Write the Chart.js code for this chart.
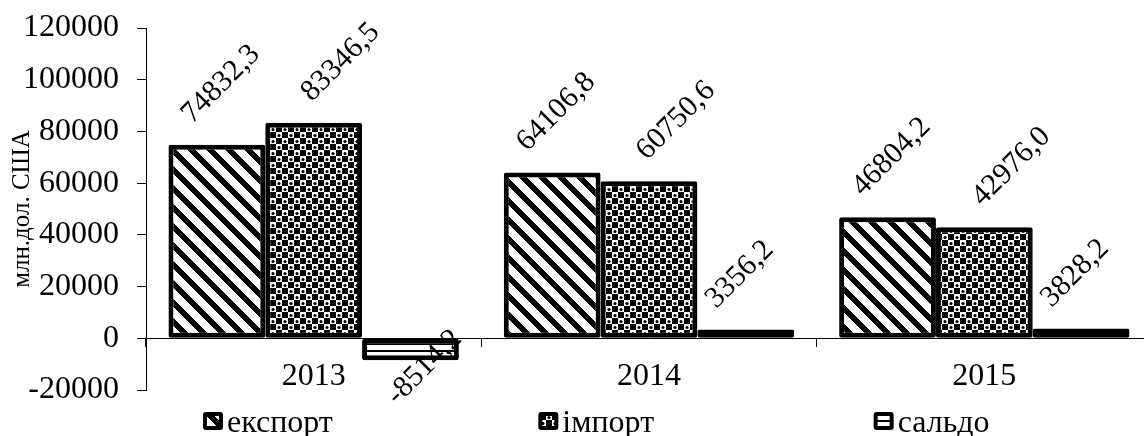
<!DOCTYPE html>
<html>
<head>
<meta charset="utf-8">
<script src="https://cdn.jsdelivr.net/npm/chart.js@4.4.1/dist/chart.umd.min.js"></script>
<style>
  html, body { margin: 0; padding: 0; background: #fff; overflow: hidden; }
  #wrap { width: 1152px; height: 436px; }
</style>
</head>
<body>
<div id="wrap"><canvas id="chart" width="1152" height="436"></canvas></div>
<script>
// data
const years = ['2013', '2014', '2015'];
const seriesNames = ['експорт', 'імпорт', 'сальдо'];
const exportValues = [74832.3, 64106.8, 46804.2];
const importValues = [83346.5, 60750.6, 42976.0];
const saldoValues = [-8514.2, 3356.2, 3828.2];
const yTicks = [-20000, 0, 20000, 40000, 60000, 80000, 100000, 120000];
const yTitle = 'млн.дол. США';

const FONT = '"Liberation Serif", "Times New Roman", serif';

// fill patterns like the old Excel black & white chart
function makeTile(w, h, isBlack) {
  const c = document.createElement('canvas');
  c.width = w; c.height = h;
  const g = c.getContext('2d');
  const img = g.createImageData(w, h);
  for (let y = 0; y < h; y++) {
    for (let x = 0; x < w; x++) {
      const v = isBlack(x, y) ? 0 : 255;
      const k = (y * w + x) * 4;
      img.data[k] = img.data[k + 1] = img.data[k + 2] = v;
      img.data[k + 3] = 255;
    }
  }
  g.putImageData(img, 0, 0);
  return g.createPattern(c, 'repeat');
}

const tmp = document.createElement('canvas').getContext('2d');
function pattern(w, h, f) {
  const c = document.createElement('canvas');
  c.width = w; c.height = h;
  const g = c.getContext('2d');
  f(g);
  return tmp.createPattern(c, 'repeat');
}

const stripes = makeTile(19, 19, (x, y) => (((x - y) % 19) + 19) % 19 < 8);
const checker = pattern(12, 12, g => {
  g.fillStyle = '#000';
  g.fillRect(0, 0, 12, 12);
  g.fillStyle = '#fff';
  g.fillRect(0, 0, 6, 6);
  g.fillRect(6, 6, 6, 6);
  g.fillStyle = '#000';
  g.beginPath(); g.arc(3, 3.5, 1.6, 0, Math.PI * 2); g.fill();
  g.beginPath(); g.arc(9, 9.5, 1.6, 0, Math.PI * 2); g.fill();
});
const lines = makeTile(8, 7, (x, y) => y < 2);
const fills = [stripes, checker, lines];

const fmt = v => v.toFixed(1).replace('.', ',');

// rotated value labels above (or below) each bar
const labelShift = [4, 27, -6];
const barLabels = {
  id: 'barLabels',
  afterDatasetsDraw(chart) {
    const ctx = chart.ctx;
    ctx.save();
    ctx.font = '30px ' + FONT;
    ctx.fillStyle = '#000';
    ctx.textAlign = 'center';
    ctx.textBaseline = 'middle';
    chart.data.datasets.forEach((ds, i) => {
      chart.getDatasetMeta(i).data.forEach((bar, j) => {
        const v = ds.data[j];
        const txt = fmt(v);
        const half = (ctx.measureText(txt).width + 20) * 0.7071 / 2;
        let x, y;
        if (v < 0) {
          x = bar.x + 14;
          y = bar.y + 7;
        } else {
          x = bar.x + labelShift[i];
          y = bar.y - 19 - half;
        }
        ctx.save();
        ctx.translate(x, y);
        ctx.rotate(-Math.PI / 4);
        ctx.fillText(txt, 0, 0);
        ctx.restore();
      });
    });
    ctx.restore();
  }
};

// y axis title and legend row drawn by hand
const extras = {
  id: 'extras',
  afterDraw(chart) {
    const ctx = chart.ctx;
    const area = chart.chartArea;
    ctx.save();
    ctx.fillStyle = '#000';
    ctx.font = '25px ' + FONT;
    ctx.textAlign = 'center';
    ctx.textBaseline = 'middle';
    ctx.translate(22, (area.top + area.bottom) / 2);
    ctx.rotate(-Math.PI / 2);
    ctx.fillText(yTitle, 0, 0);
    ctx.restore();

    const catW = (area.right - area.left) / years.length;
    ctx.save();
    ctx.font = '32px ' + FONT;
    ctx.textBaseline = 'alphabetic';
    ctx.textAlign = 'left';
    chart.data.datasets.forEach((ds, i) => {
      const bx = area.left + 57 + i * catW;
      const by = 412;
      ctx.fillStyle = '#000';
      ctx.beginPath();
      ctx.roundRect(bx, by, 20, 18, 3);
      ctx.fill();
      ctx.fillStyle = ds.backgroundColor;
      ctx.fillRect(bx + 4, by + 4, 12, 10);
      ctx.fillStyle = '#000';
      ctx.fillText(ds.label, bx + 24, 432);
    });
    ctx.restore();
  }
};

const datasets = [exportValues, importValues, saldoValues].map((vals, i) => ({
  label: seriesNames[i],
  data: vals,
  backgroundColor: fills[i],
  borderColor: '#000',
  borderWidth: 5,
  borderSkipped: false,
  borderRadius: 2,
  categoryPercentage: 0.866,
  barPercentage: 1.0,
}));

new Chart(document.getElementById('chart'), {
  type: 'bar',
  data: { labels: years, datasets },
  options: {
    responsive: false,
    animation: false,
    devicePixelRatio: 1,
    layout: { padding: { top: 28, bottom: 46, left: 0, right: 0 } },
    scales: {
      x: {
        position: { y: 0 },
        afterFit(scale) { scale.paddingTop = 0; scale.paddingBottom = 0; },
        grid: { drawOnChartArea: false, drawTicks: true, tickLength: 8, color: '#000', offset: true },
        border: { display: true, color: '#000', width: 1 },
        ticks: { color: '#000', font: { family: FONT, size: 32 }, padding: 11 },
      },
      y: {
        min: -20000,
        max: 120000,
        afterFit(scale) {
          scale.width = 146;
          scale.paddingTop = 0;
          scale.paddingBottom = 0;
        },
        afterBuildTicks(scale) { scale.ticks = yTicks.map(v => ({ value: v })); },
        grid: { drawOnChartArea: false, drawTicks: true, tickLength: 9, color: '#000' },
        border: { display: true, color: '#000', width: 1 },
        ticks: {
          color: '#000',
          font: { family: FONT, size: 32 },
          padding: 18,
          callback: v => String(v),
        },
      },
    },
    plugins: {
      legend: { display: false },
      tooltip: { enabled: false },
    },
  },
  plugins: [barLabels, extras],
});
</script>
</body>
</html>
